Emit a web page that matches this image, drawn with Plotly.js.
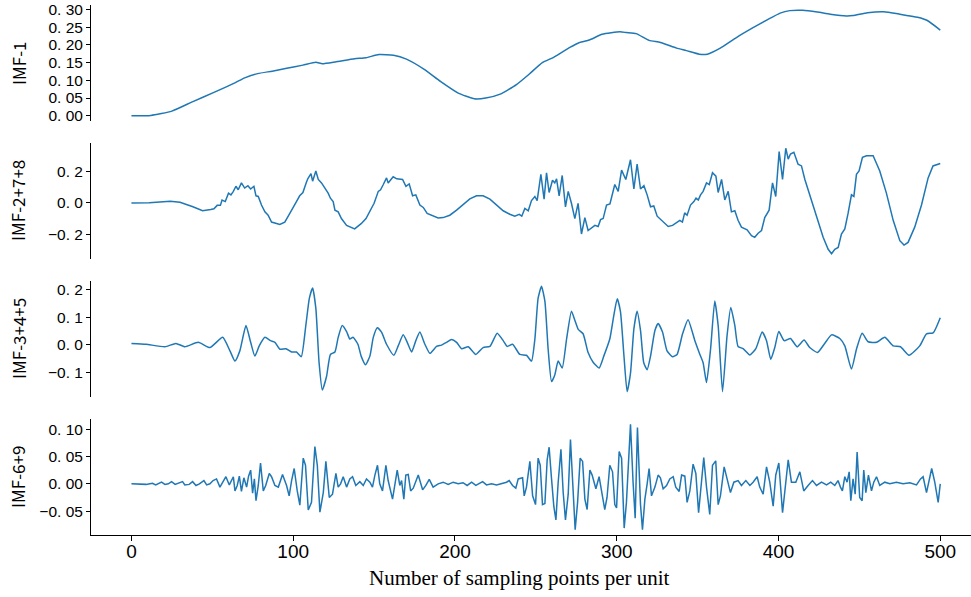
<!DOCTYPE html>
<html><head><meta charset="utf-8">
<script src="https://cdn.plot.ly/plotly-3.0.1.min.js"></script>
<style>html,body{margin:0;padding:0;background:#fff}#chart{width:971px;height:597px}</style>
</head><body><div id="chart"></div>
<script>
// ---- data ----
const seriesNames = ["IMF-1", "IMF-2+7+8", "IMF-3+4+5", "IMF-6+9"];

const x1 = [0,12,25,38,51,64,70,78,87,96,106,114,118,126,138,145,153,162,170,181,191,202,212,219,228,238,246,254,261,271,277,283,291,302,306,312,320,327,337,343,351,356,364,374,384,393,401,407,415,424,432,442,446,455,465,475,486,492,500];
const imf1 = [0.000,0.001,0.013,0.040,0.066,0.093,0.107,0.119,0.126,0.134,0.143,0.151,0.147,0.152,0.161,0.164,0.173,0.171,0.160,0.131,0.097,0.064,0.048,0.050,0.061,0.088,0.118,0.150,0.165,0.193,0.207,0.214,0.230,0.237,0.235,0.232,0.213,0.207,0.191,0.184,0.174,0.174,0.191,0.221,0.248,0.271,0.290,0.297,0.298,0.293,0.287,0.282,0.283,0.291,0.294,0.287,0.278,0.269,0.242];

const x2 = [0,11,24,30,38,44,49,51,53,55,56,58,60,61.5,63,64.6,66,68,70,72,73.7,75.7,77,78.4,80.4,82.5,84.5,86.6,91.7,94.8,97.9,100,102,104,106,108,109,111,112,114,115.5,117.5,119.6,121.6,123,124.7,125.8,127.8,129.8,133,138,142,145,148,150,152.6,154,155.7,157.7,158.7,
161.8,164,167.6,169.7,171.7,173.8,175.8,178.3,180.4,182.8,186.5,189.6,192.7,196.8,201,205,209.2,213.3,217.4,221.6,225.7,229.8,233.9,237,239.7,241.3,243.2,245.3,247.3,249.4,250.8,253.1,255.1,256.6,258.2,260.3,261.7,262.8,264.4,266.3,268.3,270,272,274.1,276.1,278.2,280.3,282.3,286.5,288.5,290,291.6,293.7,295.8,298.8,300.9,303,305.6,308.5,310.6,312.6,314.7,316.8,318.8,320.9,322.9,325,328.7,331.8,334.5,
339,340.6,342,343.5,345.6,347.7,349,350.4,351.8,353.4,355.5,357.2,359.2,361.3,362.7,364.8,366.8,368.9,370.9,373,375,377.1,380.6,383.3,385.3,387.4,389.5,391.5,394.2,396.3,398.3,400.4,402.5,404.5,406,407.4,409.5,412.1,414.2,416.3,419.3,423.5,427.6,430.7,432.8,434.8,436.9,438.9,441,443,445.1,446.6,448.2,449.8,451.9,454.4,458.5,462.6,466.7,470.9,475,477.6,480.1,484.2,488.4,492.5,495.5,500];
const imf2 = [0.000,0.002,0.011,0.004,-0.024,-0.049,-0.041,-0.036,-0.015,-0.015,0.019,0.009,0.062,0.051,0.073,0.105,0.083,0.126,0.094,0.109,0.088,0.105,0.045,0.041,-0.013,-0.056,-0.077,-0.120,-0.135,-0.120,-0.066,-0.024,0.009,0.045,0.066,0.126,0.152,0.184,0.137,0.201,0.148,0.126,0.094,0.062,0.030,0.009,-0.045,-0.056,-0.098,-0.141,-0.163,-0.130,-0.098,-0.034,-0.002,0.073,0.083,0.116,0.158,0.126,
0.165,0.152,0.148,0.105,0.120,0.045,0.051,-0.013,-0.028,-0.066,-0.083,-0.094,-0.092,-0.077,-0.045,-0.013,0.026,0.045,0.045,0.024,-0.013,-0.049,-0.071,-0.083,-0.071,-0.083,-0.034,-0.049,0.015,0.041,0.015,0.180,0.024,0.190,0.066,0.143,0.126,0.152,0.045,0.173,-0.024,0.073,-0.002,-0.098,-0.002,-0.195,-0.092,-0.173,-0.141,-0.148,-0.105,-0.098,-0.013,-0.006,0.116,0.073,0.207,0.148,0.272,0.088,0.244,0.088,0.109,0.051,-0.024,-0.019,-0.083,-0.120,-0.148,-0.141,
-0.109,-0.120,-0.062,-0.077,-0.013,0.009,0.030,0.019,0.051,0.073,0.126,0.116,0.190,0.169,0.066,0.148,0.019,0.073,-0.056,-0.049,-0.109,-0.152,-0.169,-0.205,-0.216,-0.190,-0.173,-0.092,-0.045,0.126,0.041,0.323,0.148,0.344,0.276,0.308,0.319,0.244,0.233,0.148,0.051,-0.088,-0.216,-0.291,-0.319,-0.291,-0.280,-0.195,-0.163,-0.066,0.051,0.041,0.180,0.201,0.287,0.297,0.297,0.201,0.062,-0.109,-0.237,-0.265,-0.248,-0.152,-0.013,0.158,0.233,0.248];

const x3 = [0,9,20.7,27.5,33,41.3,48.5,56.4,60.9,64,67,70.8,73.7,76.3,79,82.5,86,88.7,91.8,95.5,99,102,105,107.8,110,112,114,116,118,120.6,123,125.8,127.8,130.3,133,135,137,140,142,144.7,147.4,149.5,152,154.6,157.7,
162.2,164.9,168,170.5,173.2,175.8,178.3,181.4,184.5,188.6,191.7,194.8,197.9,201,204.1,208.2,212.9,217.4,221.6,226.1,229.8,232.3,235.6,240.1,244.2,247.3,249.4,251.4,253.5,255.6,257.6,259.7,261.7,263.8,266.3,269,272,274.1,276.2,279.2,282.3,285.4,289.1,292,295.7,298.2,300.3,302.3,304.4,306.4,308.5,310.6,312.6,314.7,316.7,318.8,320.9,323.6,325.6,328.3,331.1,334.5,
337.3,340.7,344.1,348.3,351.4,353.4,355.5,358,360.6,362.7,365.4,368.2,370.5,373,375,378.1,382.3,386,389.9,392.6,395.2,397.7,400.2,403.5,407.4,411.5,415.8,419.3,424.1,428.2,432.8,437.9,441,445.1,448.2,451.7,455.4,460.6,465.7,470.9,475.4,480.7,487.3,491.5,495.6,500];
const imf3 = [0.005,0.002,-0.007,0.005,-0.007,0.009,-0.010,0.027,-0.022,-0.059,-0.022,0.070,0.009,-0.041,-0.004,0.027,0.015,0.009,-0.016,-0.014,-0.026,-0.026,-0.043,0.070,0.169,0.206,0.132,-0.065,-0.164,-0.115,-0.035,-0.026,0.027,0.070,0.048,0.021,0.027,0.002,-0.041,-0.072,-0.041,0.027,0.062,0.046,0.002,
-0.038,-0.004,0.036,0.009,-0.026,0.015,0.046,0.002,-0.031,-0.006,-0.001,0.009,0.019,0.009,-0.014,-0.007,-0.035,-0.010,-0.006,0.042,0.015,-0.006,0.002,-0.035,-0.038,-0.059,0.021,0.169,0.212,0.157,-0.016,-0.133,-0.109,-0.059,-0.084,0.021,0.122,0.089,0.056,0.040,-0.028,-0.063,-0.084,-0.041,0.021,0.107,0.167,0.120,-0.035,-0.170,-0.103,0.058,0.122,0.052,-0.065,-0.090,-0.041,0.052,0.077,0.046,-0.022,-0.043,
-0.035,0.040,0.091,0.015,-0.035,-0.065,-0.137,-0.016,0.159,0.070,-0.170,0.033,0.135,0.070,-0.006,-0.014,-0.037,-0.014,0.046,0.015,-0.053,-0.010,0.048,0.015,0.023,-0.007,0.017,-0.010,-0.028,0.002,0.036,0.023,-0.004,-0.088,-0.016,0.042,0.011,0.009,0.027,-0.004,-0.007,-0.038,-0.004,0.040,0.043,0.098];

const x4 = [0,9,13,15,18.6,20.7,22.8,24.8,27,29,31.6,33,35.7,37.8,39.9,42,44.8,46.5,48.5,50.5,52.6,54.7,56.4,58.4,60.5,62,63,64,65.4,66.7,68,69.5,71.2,72.4,73.7,74.9,76,77,78.4,79.8,81.5,83,85.2,86.6,88.7,90.8,93.4,95.9,97.5,99,100.6,102.5,104.1,106.2,107.6,109.3,111.3,113.4,114.9,116.5,118.6,120.2,122.3,124.3,126.4,127.8,129.3,130.9,133,135,136.7,138.7,141.2,143.3,145.3,147.4,149,150.5,152.1,153.5,155.2,157.3,158.7,
161.4,162.9,164.3,165.9,167,168.4,169.6,171.1,172.6,174.2,177.3,180,182,184.1,186.5,189.6,192.7,195.8,198.9,202,205,207.5,210.3,212.9,215,217.1,219.5,222.6,225.7,228.8,231.9,233.5,235.6,237.6,239.1,241.8,242.8,244.2,246.3,248,249.8,251.4,252.7,254.1,255.6,257,258.2,259.7,261.1,262.4,263.8,265.5,266.9,268.3,270,271.4,272.9,274.3,275.8,277.4,278.9,280.3,281.7,283.4,284.8,287.1,289.1,291,292.6,294,295.7,297.4,298.8,299.9,301.5,303,304.6,306,308.5,310.1,311.4,312.8,314.7,315.9,317.4,318.8,320,321.5,323.6,325.6,327,328.7,330.8,
332.8,334.9,336.5,338.6,340.1,342.1,343.5,345.2,347.2,348.9,350.6,352.2,353.8,355.5,357.5,359.2,361.2,362.7,364.1,366.4,368.2,370.3,372.4,375,377.1,379.8,382.3,384.3,386.8,388.4,390.5,392.6,394.6,396.7,398.3,400.2,402.5,403.9,406,408,410.7,413.2,415.6,418.3,421,423.5,426.6,429.7,432.3,434.8,436.8,438.3,439.5,441,442.4,443.7,444.7,446.1,447.4,448.6,450.2,451.7,452.7,454,455.6,457.5,458.9,460.6,462.6,465.7,468.8,472.9,477,481.2,485.3,487.8,489.4,491.5,493.1,494.7,496.6,498.7,500];
const imf4 = [0.000,-0.001,0.001,-0.002,0.003,-0.001,0.000,0.004,-0.001,0.001,0.004,-0.002,-0.001,0.004,-0.003,0.000,0.006,-0.002,0.000,0.006,0.009,-0.006,0.003,0.013,-0.002,0.006,0.013,-0.013,-0.003,0.014,-0.014,0.011,-0.006,0.014,0.025,-0.017,0.009,-0.031,-0.003,0.038,-0.013,-0.003,0.019,0.013,-0.003,-0.006,0.017,-0.003,-0.022,0.006,0.028,-0.013,-0.039,0.047,0.034,-0.048,-0.034,0.068,0.034,-0.052,-0.016,0.041,-0.025,-0.019,0.019,-0.006,0.000,0.013,-0.006,0.009,0.013,-0.003,0.004,-0.003,0.009,0.003,-0.006,0.016,0.034,0.000,-0.013,0.034,0.006,
-0.028,0.000,0.025,-0.003,0.006,-0.028,0.016,0.017,-0.013,-0.008,0.016,-0.011,-0.003,0.008,-0.006,0.000,0.003,-0.001,0.003,0.000,0.002,-0.003,0.003,-0.003,0.000,0.004,-0.002,0.000,-0.002,0.000,0.003,0.006,-0.003,-0.008,0.009,0.011,-0.022,-0.006,0.041,-0.022,-0.038,0.047,0.034,-0.038,-0.036,0.044,0.067,0.009,-0.041,-0.066,0.003,0.063,-0.016,-0.066,-0.019,0.081,0.003,-0.084,-0.034,0.047,0.041,-0.028,-0.047,0.025,0.016,-0.009,0.013,-0.019,-0.047,-0.025,0.034,0.022,-0.038,-0.044,0.059,0.047,-0.081,-0.034,0.109,0.003,-0.063,0.103,-0.038,-0.084,-0.028,0.000,0.028,-0.022,-0.006,0.016,0.011,-0.009,-0.003,
0.009,0.013,-0.006,-0.014,0.016,0.014,-0.034,-0.013,0.036,0.019,-0.053,-0.006,0.048,-0.006,-0.056,0.034,0.042,-0.038,-0.022,0.031,0.011,-0.016,0.003,0.006,-0.003,0.006,-0.003,0.003,0.013,-0.006,-0.019,0.031,0.003,-0.041,0.016,0.038,-0.053,-0.013,0.044,0.003,0.003,0.022,-0.013,-0.003,0.006,-0.003,0.003,-0.002,0.003,-0.003,0.006,-0.006,-0.013,0.013,0.003,0.022,-0.031,0.009,-0.019,0.058,-0.025,-0.031,0.025,-0.016,0.016,-0.013,0.003,0.013,-0.003,0.003,0.000,0.003,0.000,0.002,-0.002,0.009,0.013,-0.016,0.006,0.028,0.003,-0.034,0.000];

const xTickVals = [0, 100, 200, 300, 400, 500];
const y1TickVals = [0, 0.05, 0.10, 0.15, 0.20, 0.25, 0.30];
const y1TickText = ["0. 00", "0. 05", "0. 10", "0. 15", "0. 20", "0. 25", "0. 30"];
const y2TickVals = [-0.2, 0, 0.2];
const y2TickText = ["\u22120. 2", "0. 0", "0. 2"];
const y3TickVals = [-0.1, 0, 0.1, 0.2];
const y3TickText = ["\u22120. 1", "0. 0", "0. 1", "0. 2"];
const y4TickVals = [-0.05, 0, 0.05, 0.10];
const y4TickText = ["\u22120. 05", "0. 00", "0. 05", "0. 10"];
const xTitle = "Number of sampling points per unit";

// ---- chart ----
const CJK = '"Noto Sans CJK SC", "Noto Sans", sans-serif';
const SANS = '"Liberation Sans", Arial, sans-serif';
const lineColor = '#1f77b4';
const xs = [x1, x2, x3, x4];
const ys = [imf1, imf2, imf3, imf4];
const shapes = ['spline', 'linear', 'spline', 'linear'];
const traces = ys.map((y, i) => ({
  x: xs[i], y: y, type: 'scatter', mode: 'lines',
  xaxis: 'x', yaxis: i === 0 ? 'y' : 'y' + (i + 1),
  line: {color: lineColor, width: 1.5, shape: shapes[i], smoothing: 0.5},
  hoverinfo: 'skip'
}));

function padRange(arr) {
  const mn = Math.min(...arr), mx = Math.max(...arr), s = mx - mn;
  return [mn - 0.05 * s, mx + 0.05 * s];
}

const domains = [[0.7811, 1.0], [0.5208, 0.7396], [0.2604, 0.4792], [0.0, 0.2189]];
const tickSets = [[y1TickVals, y1TickText], [y2TickVals, y2TickText], [y3TickVals, y3TickText], [y4TickVals, y4TickText]];

const layout = {
  width: 971, height: 597,
  margin: {l: 91, r: 0, t: 5, b: 62, pad: 0},
  paper_bgcolor: '#ffffff', plot_bgcolor: '#ffffff',
  showlegend: false,
  font: {family: SANS, size: 16, color: '#000'},
  xaxis: {
    range: [-25, 519], anchor: 'y4',
    showline: true, linecolor: '#000', linewidth: 1,
    ticks: 'outside', ticklen: 5, tickwidth: 1, tickcolor: '#000',
    showgrid: false, zeroline: false, ticklabelstandoff: -6,
    tickmode: 'array', tickvals: xTickVals,
    tickfont: {family: SANS, size: 19, color: '#000'}
  },
  annotations: []
};

ys.forEach((y, i) => {
  const key = i === 0 ? 'yaxis' : 'yaxis' + (i + 1);
  layout[key] = {
    domain: domains[i], anchor: 'x', range: padRange(y),
    showline: true, linecolor: '#000', linewidth: 1,
    ticks: 'outside', ticklen: 4, tickwidth: 1, tickcolor: '#000',
    showgrid: false, zeroline: false, ticklabeloverflow: 'allow',
    tickmode: 'array', tickvals: tickSets[i][0], ticktext: tickSets[i][1],
    tickfont: {family: SANS, size: 15.5, color: '#000'}
  };
  layout.annotations.push({
    text: seriesNames[i], xref: 'paper', yref: 'paper',
    x: (18 - 91) / 880, y: (domains[i][0] + domains[i][1]) / 2,
    xanchor: 'center', yanchor: 'middle', textangle: -90, showarrow: false,
    font: {family: CJK, size: 17, color: '#000'}
  });
});

layout.annotations.push({
  text: xTitle, xref: 'paper', yref: 'paper',
  x: (519 - 91) / 880, y: (535 - 578) / 530,
  xanchor: 'center', yanchor: 'middle', showarrow: false,
  font: {family: '"Liberation Serif", "Times New Roman", serif', size: 21, color: '#000'}
});

Plotly.newPlot('chart', traces, layout, {staticPlot: true, displayModeBar: false});
</script>
</body></html>
